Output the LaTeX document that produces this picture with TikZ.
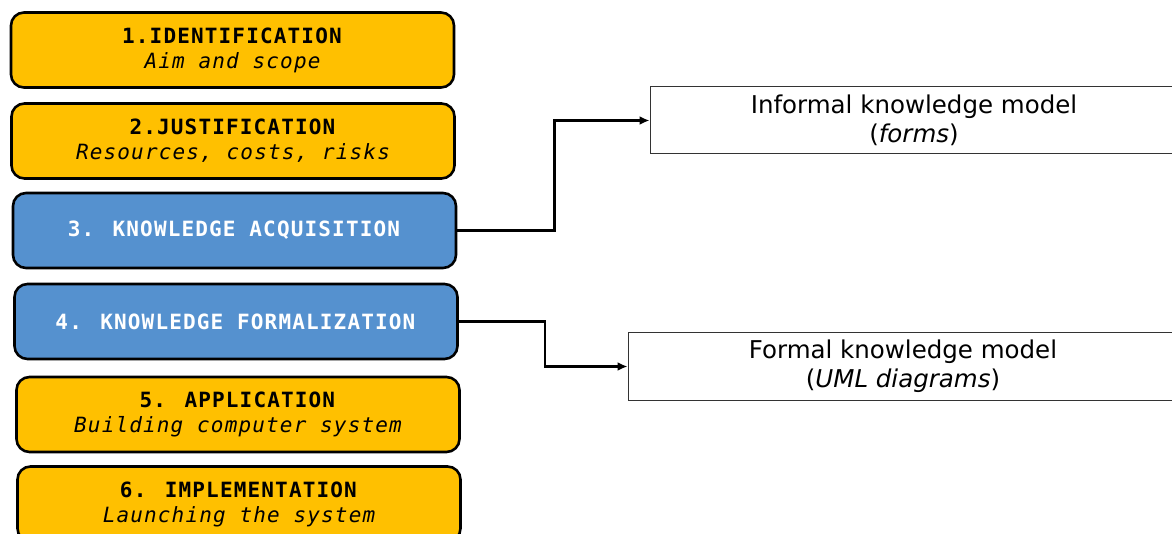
\documentclass[tikz,border=0pt]{standalone}
\usepackage{fontspec}
\setmainfont{DejaVu Sans}
\newfontfamily\boxfont[LetterSpace=5.5]{DejaVu Sans Mono}
\usetikzlibrary{arrows.meta}
\definecolor{gold}{HTML}{FFC000}
\definecolor{steel}{HTML}{5591CF}
\begin{document}
\begin{tikzpicture}[x=1pt,y=-1pt]
\useasboundingbox (0,0) rectangle (1172,534);
\tikzset{
  phase/.style={draw=black, line width=2.6pt, rounded corners=13pt,
    minimum width=443pt, minimum height=75pt, align=center, inner sep=0pt,
    font=\boxfont\fontsize{21}{25}\selectfont},
  goldbox/.style={phase, fill=gold},
  bluebox/.style={phase, fill=steel, text=white},
  model/.style={draw=black!80, line width=1pt, fill=white, minimum height=67pt,
    align=center, inner sep=0pt, font=\fontsize{24.5}{29}\selectfont},
  link/.style={line width=2.6pt, -{Latex[length=10pt,width=9pt]}}
}
\node[goldbox] (b1) at (232.5,50) {\textbf{1.IDENTIFICATION}\\\itshape Aim and scope};
\node[goldbox] (b2) at (233,141) {\textbf{2.JUSTIFICATION}\\\itshape Resources, costs, risks};
\node[bluebox] (b3) at (234.5,230.5) {\textbf{3. KNOWLEDGE ACQUISITION}};
\node[bluebox] (b4) at (236,321.5) {\textbf{4. KNOWLEDGE FORMALIZATION}};
\node[goldbox] (b5) at (238,414.5) {\textbf{5. APPLICATION}\\\itshape Building computer system};
\node[goldbox] (b6) at (239,504) {\textbf{6. IMPLEMENTATION}\\\itshape Launching the system};
\node[model, minimum width=528pt] (m1) at (914,120.5) {Informal knowledge model\\(\textit{forms})};
\node[model, minimum width=550pt] (m2) at (903,366.5) {Formal knowledge model\\(\textit{UML diagrams})};
\draw[link] (b3.east) -- ++(97,0) |- (m1.west);
\draw[link] (b4.east) -- ++(86,0) |- (m2.west);
\end{tikzpicture}
\end{document}
